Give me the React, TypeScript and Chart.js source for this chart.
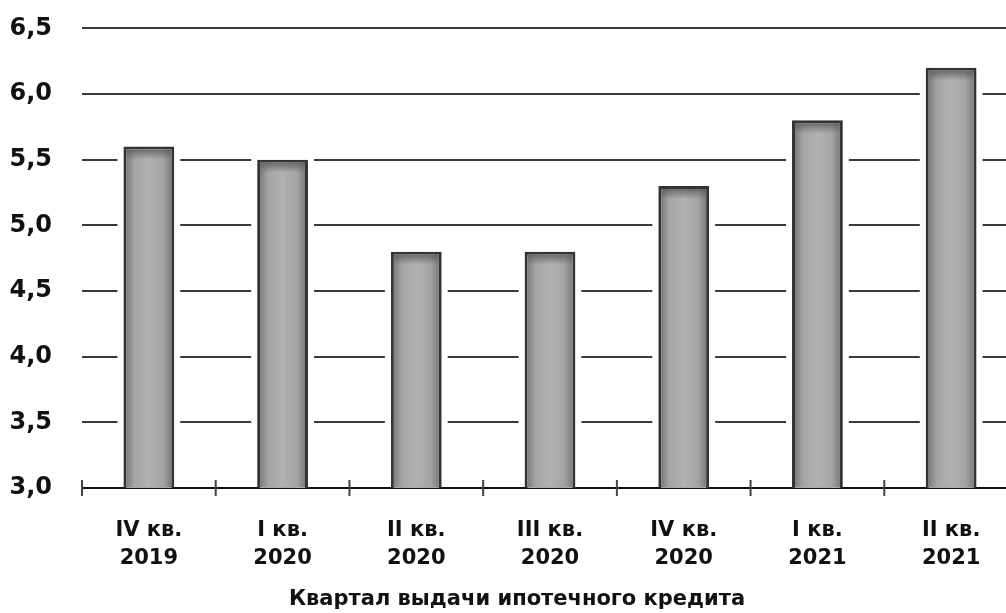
import React, { useEffect, useRef } from "react";
import { Chart, registerables } from "chart.js";

Chart.register(...registerables);

const categories: string[][] = [
  ["IV кв.", "2019"],
  ["I кв.", "2020"],
  ["II кв.", "2020"],
  ["III кв.", "2020"],
  ["IV кв.", "2020"],
  ["I кв.", "2021"],
  ["II кв.", "2021"],
];
const values: number[] = [5.6, 5.5, 4.8, 4.8, 5.3, 5.8, 6.2];
const yMin = 3.0;
const yMax = 6.5;
const yStep = 0.5;
const xTitle = "Квартал выдачи ипотечного кредита";

const FONT = "'DejaVu Sans', sans-serif";
const SHIFT = 16;

const decorPlugin = {
  id: "decor",
  beforeDatasetsDraw(chart: any) {
    const ctx = chart.ctx;
    const meta = chart.getDatasetMeta(0);
    const bottom = chart.chartArea.bottom;
    ctx.save();
    ctx.fillStyle = "#ffffff";
    meta.data.forEach((bar: any) => {
      const left = bar.x - bar.width / 2 - 6;
      const w = bar.width + 12;
      const top = bar.y - 4;
      const h = bottom - 2 - top;
      ctx.fillRect(left, top, w, h);
    });
    ctx.restore();
  },
  afterDatasetsDraw(chart: any) {
    const ctx = chart.ctx;
    const meta = chart.getDatasetMeta(0);
    const bottom = chart.chartArea.bottom;
    ctx.save();
    meta.data.forEach((bar: any) => {
      const l = bar.x - bar.width / 2;
      const r = bar.x + bar.width / 2;
      const b = 3;
      const g = ctx.createLinearGradient(l + b, 0, r - b, 0);
      g.addColorStop(0, "#7c7c7c");
      g.addColorStop(0.18, "#a4a4a4");
      g.addColorStop(0.5, "#b2b2b2");
      g.addColorStop(0.82, "#a4a4a4");
      g.addColorStop(1, "#7c7c7c");
      ctx.fillStyle = g;
      ctx.fillRect(l + b, bar.y + b, r - l - 2 * b, bottom - bar.y - b - 1);
      const gv = ctx.createLinearGradient(0, bar.y + b, 0, bar.y + b + 10);
      gv.addColorStop(0, "rgba(90,90,90,0.8)");
      gv.addColorStop(1, "rgba(90,90,90,0)");
      ctx.fillStyle = gv;
      ctx.fillRect(l + b, bar.y + b, r - l - 2 * b, 10);
    });
    ctx.restore();
  },
  afterDraw(chart: any) {
    const ctx = chart.ctx;
    const xs = chart.scales.x;
    const area = chart.chartArea;
    ctx.save();
    ctx.strokeStyle = "#444";
    ctx.lineWidth = 2;
    for (let i = 0; i <= categories.length; i++) {
      const x = xs.getPixelForValue(i - 0.5);
      ctx.beginPath();
      ctx.moveTo(x, area.bottom - 8);
      ctx.lineTo(x, area.bottom + 8);
      ctx.stroke();
    }
    ctx.fillStyle = "#111";
    ctx.font = `bold 21px ${FONT}`;
    ctx.textAlign = "center";
    ctx.textBaseline = "middle";
    ctx.fillText(xTitle, 517, chart.height - 13);
    ctx.restore();
  },
};

export default function App() {
  const ref = useRef<HTMLCanvasElement | null>(null);
  useEffect(() => {
    if (!ref.current) return;
    const chart = new Chart(ref.current, {
      type: "bar",
      data: {
        labels: categories,
        datasets: [
          {
            data: values,
            backgroundColor: "#a9a9a9",
            borderColor: "#333333",
            borderWidth: 3,
            borderSkipped: "bottom",
            barPercentage: 0.38,
            categoryPercentage: 1,
          },
        ],
      },
      options: {
        responsive: false,
        animation: false,
        devicePixelRatio: 1,
        layout: { padding: { top: 0, right: 0, left: 0, bottom: 0 } },
        plugins: {
          legend: { display: false },
          tooltip: { enabled: false },
          title: { display: false },
        },
        scales: {
          x: {
            offset: true,
            grid: { display: false },
            border: { display: true, color: "#111", width: 2 },
            ticks: {
              color: "#111111",
              font: { family: FONT, size: 21, weight: "bold", lineHeight: 1.33 },
              padding: 21,
              maxRotation: 0,
              minRotation: 0,
              autoSkip: false,
            },
            afterFit(scale: any) {
              scale.height = 125;
            },
          },
          y: {
            min: yMin,
            max: yMax,
            border: { display: false },
            grid: { color: "#3a3a3a", lineWidth: 2, drawTicks: false },
            ticks: {
              stepSize: yStep,
              color: "#111",
              padding: 30,
              font: { family: FONT, size: 24, weight: "bold" },
              callback: (v: any) => Number(v).toFixed(1).replace(".", ","),
            },
            afterFit(scale: any) {
              scale.width = 82;
            },
          },
        },
      },
      plugins: [decorPlugin],
    });
    return () => chart.destroy();
  }, []);
  return (
    <div
      style={{
        position: "fixed",
        left: 0,
        top: 0,
        width: 1006,
        height: 613,
        overflow: "hidden",
        background: "#fff",
      }}
    >
      <canvas
        ref={ref}
        width={1018}
        height={613 + SHIFT}
        style={{ display: "block", marginTop: -SHIFT }}
      />
    </div>
  );
}
